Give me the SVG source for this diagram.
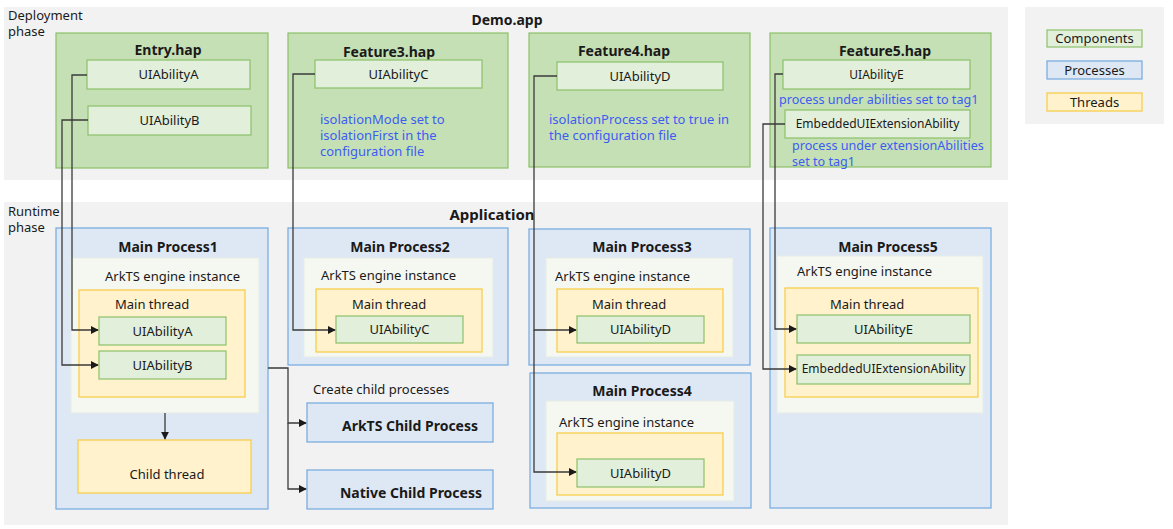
<svg xmlns="http://www.w3.org/2000/svg" width="1173" height="529" viewBox="0 0 1173 529">
  <defs>
    <marker id="arrow" viewBox="0 0 10 10" refX="9" refY="5" markerWidth="8" markerHeight="8" markerUnits="userSpaceOnUse" orient="auto">
      <path d="M0,0 L10,5 L0,10 z" fill="#1a1a1a"/>
    </marker>
    <style>
      text { font-family: "Noto Sans", "Open Sans", sans-serif; font-size: 13px; fill: #1a1a1a; }
      .bg { fill: #f2f2f2; }
      .hap { fill: #c5e0b4; stroke: #8cc06a; stroke-width: 1.2; }
      .comp { fill: #e2efda; stroke: #8cc06a; stroke-width: 1.2; }
      .proc { fill: #dee8f5; stroke: #72a8de; stroke-width: 1.2; }
      .engine { fill: #f4f8f1; stroke: #e6ebe6; stroke-width: 1; }
      .thread { fill: #fff2cc; stroke: #f8cb3e; stroke-width: 1.2; }
      .title { font-weight: bold; font-size: 14px; text-anchor: middle; }
      .mid { text-anchor: middle; }
      .note { fill: #3d5cf2; font-size: 13px; }
      .tight { font-size: 12.6px; }
      .phase { font-size: 13px; }
      .small { font-size: 12px; }
      .conn { fill: none; stroke: #3a3a3a; stroke-width: 1.3; }
    </style>
  </defs>

  <!-- background panels -->
  <rect class="bg" x="4" y="7" width="1004" height="173"/>
  <rect class="bg" x="4" y="202" width="1004" height="323"/>
  <rect class="bg" x="1025" y="7" width="139" height="117"/>

  <text class="phase" x="8" y="20">Deployment</text>
  <text class="phase" x="8" y="36">phase</text>
  <text class="title" x="507" y="25">Demo.app</text>
  <text class="phase" x="8" y="216">Runtime</text>
  <text class="phase" x="8" y="232">phase</text>
  <text class="title" x="492" y="220" style="font-size:15px">Application</text>

  <!-- legend -->
  <g id="legend">
    <rect class="comp" x="1047" y="30" width="95" height="17"/>
    <text class="mid" x="1094.5" y="43">Components</text>
    <rect class="proc" x="1047" y="61" width="95" height="18"/>
    <text class="mid" x="1094.5" y="75">Processes</text>
    <rect class="thread" x="1047" y="93" width="95" height="18"/>
    <text class="mid" x="1094.5" y="107">Threads</text>
  </g>

  <!-- deployment: HAP packages -->
  <g id="entry-hap">
    <rect class="hap" x="56" y="33" width="212" height="135"/>
    <text class="title" x="168" y="55">Entry.hap</text>
    <rect class="comp" x="87" y="60" width="163" height="29"/>
    <text class="mid" x="168.5" y="79">UIAbilityA</text>
    <rect class="comp" x="88" y="106" width="163" height="29"/>
    <text class="mid" x="169.5" y="125">UIAbilityB</text>
  </g>

  <g id="feature3-hap">
    <rect class="hap" x="288" y="33" width="220" height="135"/>
    <text class="title" x="389" y="57">Feature3.hap</text>
    <rect class="comp" x="315" y="60" width="167" height="28"/>
    <text class="mid" x="398.5" y="79">UIAbilityC</text>
    <text class="note" x="320" y="124">isolationMode set to</text>
    <text class="note" x="320" y="140">isolationFirst in the</text>
    <text class="note" x="320" y="156">configuration file</text>
  </g>

  <g id="feature4-hap">
    <rect class="hap" x="529" y="33" width="221" height="134"/>
    <text class="title" x="624" y="56">Feature4.hap</text>
    <rect class="comp" x="557" y="62" width="166" height="28"/>
    <text class="mid" x="640" y="81">UIAbilityD</text>
    <text class="note" x="549" y="124">isolationProcess set to true in</text>
    <text class="note" x="549" y="140">the configuration file</text>
  </g>

  <g id="feature5-hap">
    <rect class="hap" x="770" y="33" width="221" height="134"/>
    <text class="title" x="885" y="56">Feature5.hap</text>
    <rect class="comp" x="783" y="60" width="187" height="29"/>
    <text class="mid small" x="876.5" y="79">UIAbilityE</text>
    <text class="note tight" x="779" y="104">process under abilities set to tag1</text>
    <rect class="comp" x="785" y="110" width="185" height="28"/>
    <text class="mid small" x="877.5" y="128">EmbeddedUIExtensionAbility</text>
    <text class="note tight" x="792" y="150">process under extensionAbilities</text>
    <text class="note tight" x="792" y="166">set to tag1</text>
  </g>

  <!-- runtime: processes -->
  <g id="main-process1">
    <rect class="proc" x="56" y="228" width="212" height="281"/>
    <text class="title" x="168" y="252">Main Process1</text>
    <rect class="engine" x="71" y="258" width="188" height="155"/>
    <text x="105" y="281">ArkTS engine instance</text>
    <rect class="thread" x="79" y="290" width="166" height="107"/>
    <text x="115" y="309">Main thread</text>
    <rect class="comp" x="99" y="317" width="127" height="28"/>
    <text class="mid" x="162.5" y="336">UIAbilityA</text>
    <rect class="comp" x="99" y="351" width="127" height="28"/>
    <text class="mid" x="162.5" y="370">UIAbilityB</text>
    <rect class="thread" x="78" y="440" width="173" height="53"/>
    <text class="mid" x="167" y="479">Child thread</text>
  </g>

  <g id="main-process2">
    <rect class="proc" x="288" y="228" width="220" height="137"/>
    <text class="title" x="400" y="252">Main Process2</text>
    <rect class="engine" x="304" y="258" width="189" height="99"/>
    <text x="321" y="280">ArkTS engine instance</text>
    <rect class="thread" x="316" y="289" width="166" height="63"/>
    <text x="352" y="309">Main thread</text>
    <rect class="comp" x="336" y="316" width="127" height="27"/>
    <text class="mid" x="399.5" y="334">UIAbilityC</text>
  </g>

  <text x="313" y="394">Create child processes</text>

  <g id="arkts-child-process">
    <rect class="proc" x="307" y="403" width="186" height="39"/>
    <text class="title" x="410" y="431">ArkTS Child Process</text>
  </g>

  <g id="native-child-process">
    <rect class="proc" x="307" y="470" width="186" height="39"/>
    <text class="title" x="411" y="498">Native Child Process</text>
  </g>

  <g id="main-process3">
    <rect class="proc" x="529" y="229" width="221" height="136"/>
    <text class="title" x="642" y="252">Main Process3</text>
    <rect class="engine" x="546" y="258" width="187" height="99"/>
    <text x="555" y="281">ArkTS engine instance</text>
    <rect class="thread" x="557" y="289" width="166" height="63"/>
    <text x="592" y="309">Main thread</text>
    <rect class="comp" x="577" y="316" width="127" height="27"/>
    <text class="mid" x="640.5" y="334">UIAbilityD</text>
  </g>

  <g id="main-process4">
    <rect class="proc" x="530" y="373" width="221" height="135"/>
    <text class="title" x="642" y="396">Main Process4</text>
    <rect class="engine" x="546" y="401" width="188" height="100"/>
    <text x="559" y="427">ArkTS engine instance</text>
    <rect class="thread" x="557" y="433" width="166" height="62"/>
    <rect class="comp" x="577" y="459" width="127" height="28"/>
    <text class="mid" x="640.5" y="478">UIAbilityD</text>
  </g>

  <g id="main-process5">
    <rect class="proc" x="770" y="228" width="221" height="280"/>
    <text class="title" x="888" y="252">Main Process5</text>
    <rect class="engine" x="777" y="256" width="206" height="157"/>
    <text x="797" y="276">ArkTS engine instance</text>
    <rect class="thread" x="785" y="288" width="193" height="109"/>
    <text x="830" y="309">Main thread</text>
    <rect class="comp" x="797" y="315" width="173" height="28"/>
    <text class="mid" x="883.5" y="334">UIAbilityE</text>
    <rect class="comp" x="797" y="355" width="173" height="29"/>
    <text class="mid small" x="883.5" y="373">EmbeddedUIExtensionAbility</text>
  </g>

  <!-- connectors -->
  <g id="connectors">
    <path class="conn" d="M87,75 H72 V330 H98" marker-end="url(#arrow)"/>
    <path class="conn" d="M88,120 H62 V365 H98" marker-end="url(#arrow)"/>
    <path class="conn" d="M315,74 H293 V330 H335" marker-end="url(#arrow)"/>
    <path class="conn" d="M557,76 H534 V330 H576" marker-end="url(#arrow)"/>
    <path class="conn" d="M534,330 V472 H576" marker-end="url(#arrow)"/>
    <path class="conn" d="M783,74 H775 V329 H796" marker-end="url(#arrow)"/>
    <path class="conn" d="M785,124 H763 V369 H796" marker-end="url(#arrow)"/>
    <path class="conn" d="M165,413 V439" marker-end="url(#arrow)"/>
    <path class="conn" d="M268,368 H288 V423 H306" marker-end="url(#arrow)"/>
    <path class="conn" d="M288,423 V489 H306" marker-end="url(#arrow)"/>
  </g>
</svg>
